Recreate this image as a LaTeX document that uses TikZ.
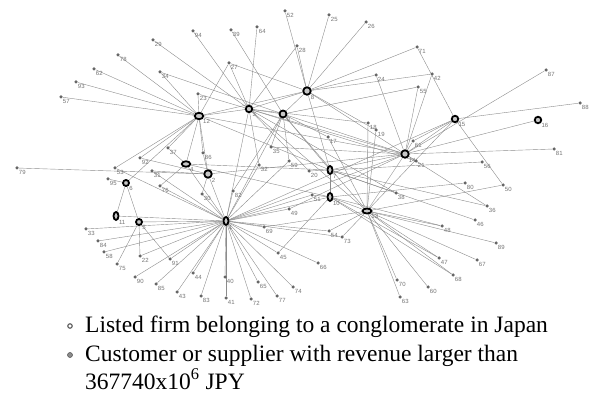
\documentclass[tikz,border=0pt]{standalone}
\usepackage{fontspec}
\setmainfont{Liberation Serif}
\setsansfont{Liberation Sans}
\usetikzlibrary{shapes.geometric,backgrounds}
\begin{document}
\begin{tikzpicture}[x=1pt,y=-1pt,line cap=round,
		firm/.style={circle,fill=black!60,inner sep=0pt,minimum size=3.5pt},
		hub/.style={ellipse,draw=black,line width=1.8pt,fill=black!22,inner sep=0pt},
		lbl/.style={font=\sffamily\fontsize{6}{6}\selectfont,text=black!55,inner sep=0.4pt},
		link/.style={black!45,line width=0.4pt},
		legend/.style={font=\fontsize{23.5}{27}\selectfont,anchor=base west,inner sep=0pt}]
	\useasboundingbox (0,0) rectangle (595,398);
	\foreach \n/\x/\y in {29/153/40, 94/193/31, 78/118/55, 62/94/69, 34/160/72, 93/76/82,
			57/61/97, 23/198/94, 39/231/30, 64/257/27, 52/285/11, 25/329/15, 26/366/22,
			28/297/46, 27/229/63, 24/376/75, 71/417/47, 42/432/74, 55/418/87, 87/546/70,
			88/580/103, 81/554/149, 56/482/162, 50/503/185, 80/465/183, 36/487/206,
			46/475/220, 48/442/226, 89/496/243, 47/439/258, 67/477/260, 68/453/275,
			70/397/280, 60/428/287, 63/400/297, 38/396/193, 21/416/161, 61/413/141,
			18/368/123, 19/376/130, 17/328/137, 20/309/171, 51/312/195, 54/329/231,
			73/342/237, 66/318/263, 45/278/253, 49/289/209, 69/264/227, 82/233/191,
			30/202/194, 32/259/165, 35/271/147, 59/289/161, 86/203/153, 37/168/148,
			92/140/158, 53/115/168, 79/17/168, 31/152/171, 95/108/179, 76/160/186,
			33/86/229, 84/98/241, 58/104/252, 22/140/256, 75/117/264, 91/170/259,
			90/135/277, 85/156/284, 43/177/292, 44/193/273, 40/225/277, 83/201/296,
			41/226/298, 72/251/299, 65/258/282, 77/277/296, 74/293/287}
		\node[firm,label={[lbl]south east:\n}] (f\n) at (\x,\y) {};
	\foreach \h/\t/\x/\y/\w/\v in {a/8/307/91/7.5/7.5, b/12/199/116/8.5/6.5, c/3/249/109/6.5/6.5,
			d/9/283/114/7/7, e/4/186/164/8.5/5.5, f/2/208/174/7.5/7.5, g/6/126/183/6/6,
			h/11/116/216/5/8, i/5/139/222/6/6, j/1/226/221/5/8, k/7/330/170/5/8,
			l/10/330/197/5/8, m/13/367/211/9/5, n/14/405/154/7.5/7.5, o/15/455/119/6.5/6.5,
			p/16/538/120/6.5/6.5}
		\node[hub,minimum width=\w,minimum height=\v,label={[lbl]south east:\t}] (\h) at (\x,\y) {};
	\begin{scope}[on background layer]
		\foreach \a/\b in {f29/c, f94/c, f78/b, f62/b, f34/b, f34/d, f93/b, f57/b, f23/b, f23/c,
				f39/d, f64/c, f52/a, f25/a, f26/a, f28/a, f28/c, f27/a, f27/b, f27/c, f24/a, f24/n,
				f71/a, f71/o, f42/a, f42/n, f55/d, f55/n, f87/n, f88/o, f81/n, f56/k, f50/o, f50/m,
				f80/l, f36/n, f36/k, f46/k, f48/m, f48/l, f89/m, f47/m, f47/l, f67/m, f68/m, f68/l,
				f70/m, f60/m, f63/m, f38/k, f38/c, f21/n, f21/c, f61/n, f61/o, f18/m, f18/c, f19/m,
				f19/a, f17/d, f17/m, f20/k, f20/c, f51/l, f51/j, f54/j, f54/m, f73/j, f73/m, f66/j,
				f45/j, f45/l, f49/j, f49/n, f69/j, f69/m, f82/j, f82/d, f30/j, f30/f, f32/j, f32/c,
				f35/d, f35/n, f59/d, f59/j, f86/b, f86/f, f37/b, f37/e, f92/b, f92/f, f53/b, f53/j,
				f79/f, f31/f, f31/j, f95/g, f76/j, f76/e, f33/j, f84/j, f58/j, f22/i, f22/j, f75/i,
				f91/i, f91/j, f90/j, f85/j, f43/j, f44/j, f40/j, f83/j, f41/j, f72/j, f65/j, f77/j,
				f74/j, a/b, a/c, a/d, a/k, a/n, b/c, b/e, b/f, b/g, c/d, c/j, d/j, d/k, e/j, f/j,
				g/h, g/i, h/j, i/j, k/l, k/n, l/m, l/j, m/n, n/o, n/p, o/m, d/n, c/n, b/n, j/n, e/k,
				b/k, c/m, e/l, f/n, j/o, d/m}
			\draw[link] (\a)--(\b);
	\end{scope}
	\node[circle,draw=black!65,line width=1.1pt,fill=white,inner sep=0pt,minimum size=4.5pt] (lg1) at (70,326) {};
	\node[circle,draw=black!65,line width=0.6pt,fill=black!45,inner sep=0pt,minimum size=5pt] (lg2) at (70,355) {};
	\node[legend] (t1) at (85,333) {Listed firm belonging to a conglomerate in Japan};
	\node[legend] (t2) at (85,362) {Customer or supplier with revenue larger than};
	\node[legend] (t3) at (85,389) {367740x10\textsuperscript{6} JPY};
\end{tikzpicture}
\end{document}
